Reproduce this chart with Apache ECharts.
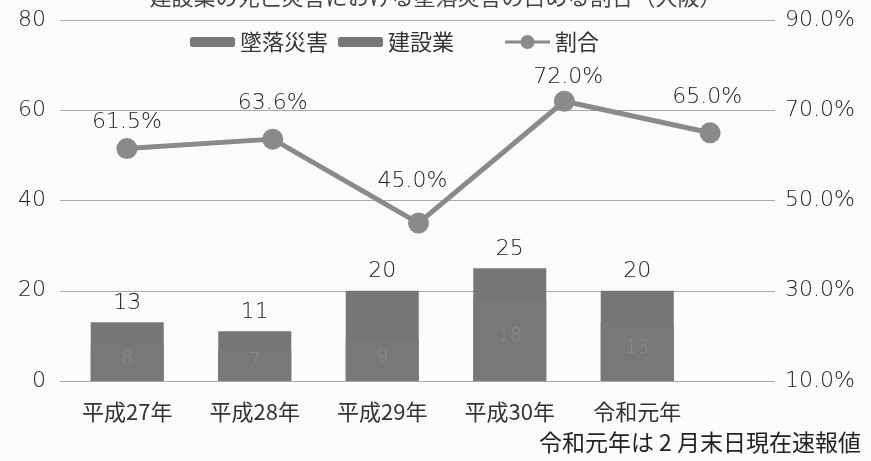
<!DOCTYPE html>
<html><head><meta charset="utf-8">
<script src="https://cdn.jsdelivr.net/npm/echarts@6/dist/echarts.min.js"></script>
<style>html,body{margin:0;padding:0;background:#fbfbfb;}#c{width:871px;height:461px;}</style>
</head><body><div id="c"></div>
<script>
const categories = ['平成27年','平成28年','平成29年','平成30年','令和元年'];
const construction = [13, 11, 20, 25, 20];
const falls = [8, 7, 9, 18, 13];
const ratio = [61.5, 63.6, 45.0, 72.0, 65.0];
const leftTicks = [0, 20, 40, 60, 80];
const rightTicks = ['10.0%','30.0%','50.0%','70.0%','90.0%'];
const RIGHT_BASE = 10;
// label nudges (style only)
const ratioLabelNudge = [[0, 4], [0, -5], [-6, -11], [4, 7], [-3, -5]];

const font = '"Noto Sans CJK JP", "Noto Sans", sans-serif';
const numFont = '"DejaVu Sans", sans-serif';
const numColor = '#222';
const chart = echarts.init(document.getElementById('c'));
chart.setOption({
  backgroundColor: '#fbfbfb',
  textStyle: { fontFamily: font },
  animation: false,
  title: {
    text: '建設業の死亡災害における墜落災害の占める割合（大阪）',
    left: 'center', top: -19,
    textStyle: { fontSize: 22, color: '#444', fontWeight: 'normal', fontFamily: font }
  },
  legend: [
    { data: ['墜落災害','建設業'], left: 185, top: 26, itemWidth: 45, itemHeight: 10, itemGap: 10,
      textStyle: { fontSize: 22, color: '#333', fontFamily: font } },
    { data: [{ name: '割合', icon: 'path://M0,5.5H45V8.5H0Z M15.5,7A7,7 0 1,1 29.5,7A7,7 0 1,1 15.5,7Z' }],
      left: 500, top: 26, itemWidth: 45, itemHeight: 14,
      textStyle: { fontSize: 22, color: '#333', fontFamily: font } }
  ],
  grid: [
    { left: 60, right: 96, top: 20, bottom: 80 },
    { left: 63.5, width: 637.5, top: 20, bottom: 80 },
    { left: 54, width: 729, top: 20, bottom: 80 }
  ],
  xAxis: [
    { gridIndex: 0, type: 'value', min: 0, max: 1, show: false },
    { gridIndex: 1, type: 'category', data: categories,
      axisLine: { show: false }, axisTick: { show: false },
      axisLabel: { fontSize: 22, color: '#333', margin: 20, fontFamily: font } },
    { gridIndex: 2, type: 'category', data: categories, show: false }
  ],
  yAxis: [
    { gridIndex: 0, type: 'value', min: 0, max: 80, interval: 20, position: 'left',
      axisLine: { show: false }, axisTick: { show: false },
      axisLabel: { fontSize: 22, color: numColor, margin: 14, fontFamily: numFont, fontWeight: 200,
        formatter: v => String(leftTicks[v / 20]) },
      splitLine: { lineStyle: { color: '#a8a8a8', width: 1.2 } } },
    { gridIndex: 0, type: 'value', min: 0, max: 80, interval: 20, position: 'right',
      axisLine: { show: false }, axisTick: { show: false }, splitLine: { show: false },
      axisLabel: { fontSize: 22, color: numColor, margin: 10, align: 'left', fontFamily: numFont, fontWeight: 200,
        formatter: v => rightTicks[v / 20] } },
    { gridIndex: 1, type: 'value', min: 0, max: 80, show: false, splitLine: { show: false } },
    { gridIndex: 2, type: 'value', min: 0, max: 80, show: false, splitLine: { show: false } }
  ],
  series: [
    { name: '建設業', type: 'bar', xAxisIndex: 1, yAxisIndex: 2, data: construction,
      barWidth: 73, itemStyle: { color: '#767676' },
      label: { show: true, position: 'top', distance: 8, fontSize: 22, color: numColor, fontFamily: numFont, fontWeight: 200 } },
    { name: '墜落災害', type: 'bar', xAxisIndex: 1, yAxisIndex: 2, data: falls,
      barWidth: 73, barGap: '-100%', itemStyle: { color: '#787878' },
      label: { show: true, position: 'inside', offset: [0, -4], fontSize: 19, color: '#8c8c8c', fontFamily: numFont, fontWeight: 200 } },
    { name: '割合', type: 'line', xAxisIndex: 2, yAxisIndex: 3,
      data: ratio.map((r, i) => ({ value: r - RIGHT_BASE, label: { offset: ratioLabelNudge[i] } })),
      symbol: 'circle', symbolSize: 21, z: 5,
      lineStyle: { color: '#8a8a8a', width: 5 }, itemStyle: { color: '#8a8a8a' },
      label: { show: true, position: 'top', distance: 9, fontSize: 22, color: numColor, fontFamily: numFont, fontWeight: 200,
        formatter: p => ratio[p.dataIndex].toFixed(1) + '%' } }
  ],
  graphic: [
    { type: 'text', right: 10, top: 431,
      style: { text: '令和元年は 2 月末日現在速報値', fontSize: 23, fill: '#222', fontFamily: font } }
  ]
});
</script></body></html>
